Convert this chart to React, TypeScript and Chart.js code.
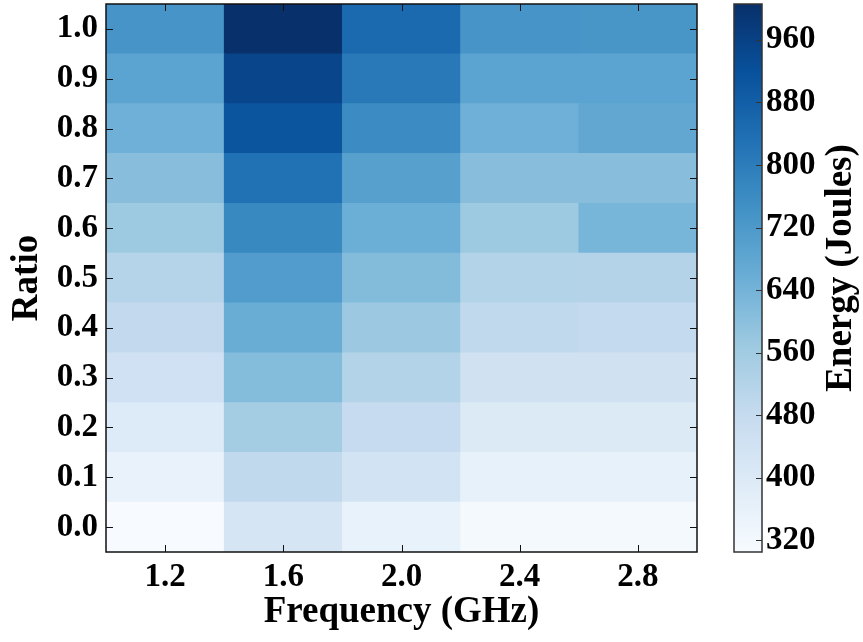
import React, { useEffect, useRef } from 'react';
import { Chart, registerables } from 'chart.js';

Chart.register(...registerables);

// Categories
const frequencies = ['1.2', '1.6', '2.0', '2.4', '2.8'];
const ratios = [0.0, 0.1, 0.2, 0.3, 0.4, 0.5, 0.6, 0.7, 0.8, 0.9, 1.0];

// Energy (Joules) per frequency column, listed for ratio 0.0 -> 1.0
const energy12 = [305, 355, 396, 446, 487, 515, 568, 606, 650, 690, 733];
const energy16 = [424, 491, 554, 613, 660, 712, 768, 830, 908, 950, 1006];
const energy20 = [357, 438, 480, 522, 571, 615, 656, 698, 760, 810, 852];
const energy24 = [315, 360, 400, 444, 491, 522, 568, 606, 650, 690, 733];
const energy28 = [315, 362, 400, 445, 485, 520, 635, 606, 677, 690, 730];

const colorbarTicks = [320, 400, 480, 560, 640, 720, 800, 880, 960];

const energyColumns = [energy12, energy16, energy20, energy24, energy28];
const allValues = energyColumns.flat();
const vmin = Math.min(...allValues);
const vmax = Math.max(...allValues);

const BLUES: number[][] = [
  [247, 251, 255],
  [222, 235, 247],
  [198, 219, 239],
  [158, 202, 225],
  [107, 174, 214],
  [66, 146, 198],
  [33, 113, 181],
  [8, 81, 156],
  [8, 48, 107],
];

function blues(t: number): string {
  const tt = Math.max(0, Math.min(1, t)) * (BLUES.length - 1);
  const i = Math.min(BLUES.length - 2, Math.floor(tt));
  const f = tt - i;
  const a = BLUES[i];
  const b = BLUES[i + 1];
  const c = a.map((v, k) => Math.round(v + (b[k] - v) * f));
  return `rgb(${c[0]},${c[1]},${c[2]})`;
}

function colorFor(v: number): string {
  return blues((v - vmin) / (vmax - vmin));
}

const FONT_FAMILY = '"Liberation Serif", "Times New Roman", serif';
const TICK_FONT = { family: FONT_FAMILY, weight: 'bold' as const, size: 33 };
const TITLE_FONT = `bold 37px ${FONT_FAMILY}`;

const decorPlugin = {
  id: 'decor',
  afterDraw(chart: any) {
    const { ctx, chartArea, scales } = chart;
    const { left, right, top, bottom } = chartArea;
    const xs = scales.x;
    const ys = scales.y;
    const y2 = scales.y2;
    ctx.save();

    // plot frame
    ctx.strokeStyle = '#111';
    ctx.lineWidth = 1.5;
    ctx.strokeRect(left, top, right - left, bottom - top);

    // inward ticks
    ctx.lineWidth = 1;
    const tl = 7;
    ctx.beginPath();
    xs.ticks.forEach((_: any, i: number) => {
      const px = Math.round(xs.getPixelForTick(i)) + 0.5;
      ctx.moveTo(px, bottom);
      ctx.lineTo(px, bottom - tl);
      ctx.moveTo(px, top);
      ctx.lineTo(px, top + tl);
    });
    ys.ticks.forEach((t: any) => {
      const py = Math.round(ys.getPixelForValue(t.value)) + 0.5;
      ctx.moveTo(left, py);
      ctx.lineTo(left + tl, py);
      ctx.moveTo(right, py);
      ctx.lineTo(right - tl, py);
    });
    ctx.stroke();

    // colorbar
    const cbLeft = right + 37;
    const cbRight = right + 65;
    const cbTop = y2.getPixelForValue(vmax);
    const cbBottom = y2.getPixelForValue(vmin);
    const grad = ctx.createLinearGradient(0, cbBottom, 0, cbTop);
    BLUES.forEach((c, i) => {
      grad.addColorStop(i / (BLUES.length - 1), `rgb(${c[0]},${c[1]},${c[2]})`);
    });
    ctx.fillStyle = grad;
    ctx.fillRect(cbLeft, cbTop, cbRight - cbLeft, cbBottom - cbTop);
    ctx.strokeStyle = '#333';
    ctx.lineWidth = 1.5;
    ctx.strokeRect(cbLeft, cbTop, cbRight - cbLeft, cbBottom - cbTop);
    ctx.lineWidth = 1;
    ctx.beginPath();
    y2.ticks.forEach((t: any) => {
      const py = Math.round(y2.getPixelForValue(t.value)) + 0.5;
      ctx.moveTo(cbRight, py);
      ctx.lineTo(cbRight - 6, py);
    });
    ctx.stroke();

    // titles
    ctx.fillStyle = '#000';
    ctx.font = TITLE_FONT;
    ctx.textAlign = 'center';
    ctx.textBaseline = 'middle';
    ctx.fillText('Frequency (GHz)', (left + right) / 2, 612);

    ctx.save();
    ctx.translate(27, (top + bottom) / 2);
    ctx.rotate(-Math.PI / 2);
    ctx.fillText('Ratio', 0, 0);
    ctx.restore();

    ctx.save();
    ctx.translate(841, 268);
    ctx.rotate(-Math.PI / 2);
    ctx.fillText('Energy (Joules)', 0, 0);
    ctx.restore();

    ctx.restore();
  },
};

export default function App() {
  const canvasRef = useRef<HTMLCanvasElement | null>(null);

  useEffect(() => {
    if (!canvasRef.current) return;
    const datasets = ratios.map((r, i) => ({
      label: r.toFixed(1),
      data: frequencies.map(() => [r - 0.05, r + 0.05]),
      backgroundColor: energyColumns.map((col) => colorFor(col[i])),
      borderWidth: 0,
      grouped: false,
      barPercentage: 1,
      categoryPercentage: 1,
    }));

    const chart = new Chart(canvasRef.current, {
      type: 'bar',
      data: { labels: frequencies, datasets: datasets as any },
      options: {
        animation: false,
        responsive: true,
        maintainAspectRatio: false,
        layout: { padding: { top: 4, left: 0, right: 0, bottom: 0 } },
        plugins: {
          legend: { display: false },
          tooltip: { enabled: false },
        },
        scales: {
          x: {
            type: 'category',
            grid: { display: false, drawTicks: false },
            border: { display: false },
            ticks: { font: TICK_FONT, color: '#000', padding: 6, maxRotation: 0 },
            afterFit: (s: any) => {
              s.height = 90;
              s.paddingLeft = 0;
              s.paddingRight = 0;
            },
          },
          y: {
            type: 'linear',
            min: -0.05,
            max: 1.05,
            grid: { display: false, drawTicks: false },
            border: { display: false },
            afterBuildTicks: (s: any) => {
              s.ticks = ratios.map((v) => ({ value: v }));
            },
            ticks: {
              font: TICK_FONT,
              color: '#000',
              padding: 8,
              callback: (v: any) => Number(v).toFixed(1),
            },
            afterFit: (s: any) => {
              s.width = 106;
              s.paddingTop = 0;
              s.paddingBottom = 0;
            },
          },
          y2: {
            type: 'linear',
            position: 'right',
            min: vmin,
            max: vmax,
            grid: { display: false, drawTicks: false },
            border: { display: false },
            afterBuildTicks: (s: any) => {
              s.ticks = colorbarTicks.map((v) => ({ value: v }));
            },
            ticks: {
              font: TICK_FONT,
              color: '#000',
              padding: 69,
              callback: (v: any) => String(v),
            },
            afterFit: (s: any) => {
              s.width = 166;
              s.paddingTop = 0;
              s.paddingBottom = 0;
            },
          },
        },
      },
      plugins: [decorPlugin],
    });
    return () => chart.destroy();
  }, []);

  return (
    <div style={{ position: 'fixed', left: 0, top: 0, width: 863, height: 642, background: '#fff' }}>
      <canvas ref={canvasRef} />
    </div>
  );
}
